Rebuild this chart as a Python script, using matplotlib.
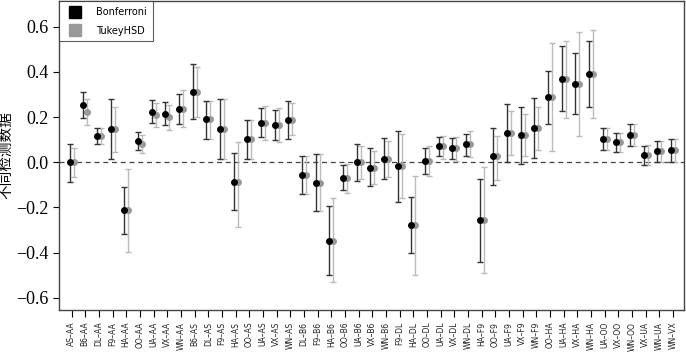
import matplotlib.pyplot as plt
import numpy as np

plt.rcParams['font.serif'] = ['Liberation Serif', 'Times New Roman', 'DejaVu Serif']

pairs = ['AS–AA', 'B6–AA', 'DL–AA', 'F9–AA', 'HA–AA', 'OO–AA', 'UA–AA', 'VX–AA', 'WN–AA',
         'B6–AS', 'DL–AS', 'F9–AS', 'HA–AS', 'OO–AS', 'UA–AS', 'VX–AS', 'WN–AS',
         'DL–B6', 'F9–B6', 'HA–B6', 'OO–B6', 'UA–B6', 'VX–B6', 'WN–B6',
         'F9–DL', 'HA–DL', 'OO–DL', 'UA–DL', 'VX–DL', 'WN–DL',
         'HA–F9', 'OO–F9', 'UA–F9', 'VX–F9', 'WN–F9',
         'OO–HA', 'UA–HA', 'VX–HA', 'WN–HA',
         'UA–OO', 'VX–OO', 'WN–OO', 'VX–UA', 'WN–UA', 'WN–VX']

# Bonferroni: estimate, lower, upper
bon_est = [0.0, 0.253, 0.117, 0.147, -0.213, 0.093, 0.224, 0.215, 0.234,
           0.312, 0.19, 0.147, -0.087, 0.102, 0.176, 0.164, 0.187,
           -0.055, -0.09, -0.347, -0.07, 0.0, -0.024, 0.016,
           -0.016, -0.277, 0.006, 0.07, 0.061, 0.081,
           -0.258, 0.027, 0.13, 0.12, 0.152,
           0.288, 0.369, 0.348, 0.392,
           0.105, 0.09, 0.121, 0.03, 0.052, 0.056]
bon_lo = [-0.087, 0.194, 0.083, 0.013, -0.317, 0.053, 0.172, 0.164, 0.169,
          0.19, 0.105, 0.013, -0.213, 0.016, 0.112, 0.1, 0.105,
          -0.139, -0.218, -0.498, -0.124, -0.084, -0.107, -0.076,
          -0.176, -0.403, -0.05, 0.027, 0.013, 0.028,
          -0.443, -0.099, 0.0, -0.006, 0.021,
          0.168, 0.227, 0.212, 0.246,
          0.056, 0.046, 0.071, -0.01, 0.001, 0.001]
bon_hi = [0.083, 0.312, 0.152, 0.279, -0.11, 0.135, 0.276, 0.268, 0.301,
          0.434, 0.272, 0.279, 0.041, 0.187, 0.241, 0.231, 0.272,
          0.028, 0.036, -0.194, -0.01, 0.083, 0.061, 0.108,
          0.139, -0.154, 0.065, 0.112, 0.108, 0.127,
          -0.076, 0.15, 0.256, 0.246, 0.286,
          0.406, 0.516, 0.486, 0.535,
          0.15, 0.13, 0.169, 0.072, 0.095, 0.105]

# TukeyHSD: estimate, lower, upper
tuk_est = [0.0, 0.224, 0.117, 0.147, -0.213, 0.08, 0.209, 0.201, 0.234,
           0.312, 0.19, 0.147, -0.087, 0.102, 0.176, 0.164, 0.187,
           -0.055, -0.09, -0.347, -0.07, 0.0, -0.024, 0.016,
           -0.016, -0.277, 0.006, 0.07, 0.061, 0.081,
           -0.258, 0.027, 0.13, 0.12, 0.152,
           0.288, 0.369, 0.348, 0.392,
           0.105, 0.09, 0.121, 0.03, 0.052, 0.056]
tuk_lo = [-0.065, 0.164, 0.083, 0.046, -0.399, 0.039, 0.157, 0.145, 0.157,
          0.201, 0.105, 0.013, -0.288, 0.016, 0.1, 0.09, 0.12,
          -0.139, -0.218, -0.529, -0.136, -0.073, -0.095, -0.065,
          -0.157, -0.498, -0.061, 0.016, 0.006, 0.024,
          -0.49, -0.077, 0.031, 0.027, 0.056,
          0.049, 0.197, 0.116, 0.194,
          0.056, 0.046, 0.071, -0.012, 0.001, 0.001]
tuk_hi = [0.061, 0.28, 0.152, 0.246, -0.032, 0.12, 0.261, 0.253, 0.32,
          0.42, 0.272, 0.279, 0.09, 0.187, 0.25, 0.241, 0.261,
          0.028, 0.036, -0.159, -0.006, 0.071, 0.05, 0.093,
          0.127, -0.061, 0.072, 0.117, 0.112, 0.139,
          -0.021, 0.116, 0.227, 0.213, 0.246,
          0.527, 0.539, 0.579, 0.584,
          0.15, 0.13, 0.169, 0.075, 0.095, 0.105]

yticks = [-0.6, -0.4, -0.2, 0.0, 0.2, 0.4, 0.6]
ytick_labels = ['\u22120.6', '\u22120.4', '\u22120.2', '0.0', '0.2', '0.4', '0.6']

x = np.arange(len(pairs))
bon_est, bon_lo, bon_hi = map(np.array, (bon_est, bon_lo, bon_hi))
tuk_est, tuk_lo, tuk_hi = map(np.array, (tuk_est, tuk_lo, tuk_hi))

fig = plt.figure(figsize=(6.86, 3.57), dpi=100)
ax = fig.add_axes([0.0864, 0.132, 0.9106, 0.865])

ax.axhline(0, color='#444444', lw=0.9, ls=(0, (4, 3)), zorder=1)

ax.errorbar(x + 0.15, tuk_est, yerr=[tuk_est - tuk_lo, tuk_hi - tuk_est],
            fmt='o', color='#999999', ecolor='#bbbbbb', ms=4, capsize=2.5,
            elinewidth=1, capthick=1, zorder=2)
ax.errorbar(x - 0.15, bon_est, yerr=[bon_est - bon_lo, bon_hi - bon_est],
            fmt='o', color='black', ecolor='#333333', ms=4, capsize=2.5,
            elinewidth=1, capthick=1, zorder=3)

# legend
h1 = plt.Line2D([], [], marker='s', ls='', color='black', ms=8)
h2 = plt.Line2D([], [], marker='s', ls='', color='#999999', ms=8)
leg = ax.legend([h1, h2], ['Bonferroni', 'TukeyHSD'], loc='upper left',
                fontsize=7, fancybox=False, edgecolor='#333333',
                borderaxespad=0, handletextpad=1.2, labelspacing=0.9,
                borderpad=0.6)
leg.get_frame().set_linewidth(0.8)

ax.set_xlim(-0.9, 44.8)
ax.set_ylim(-0.654, 0.714)
ax.set_xticks(x)
ax.set_xticklabels(pairs, rotation=90, fontsize=5.5, color='#222222')
ax.set_yticks(yticks)
ax.set_yticklabels(ytick_labels, fontfamily='Liberation Serif', fontsize=13)
ax.tick_params(axis='x', length=5, width=0.8)
ax.tick_params(axis='y', length=4, width=0.8)
ax.set_ylabel('不同检测数据', family=['Noto Sans CJK SC', 'DejaVu Sans'],
              fontsize=10.5, labelpad=2)
for s in ax.spines.values():
    s.set_color('#444444')
    s.set_linewidth(1)

fig.savefig('out.png', dpi=100)
